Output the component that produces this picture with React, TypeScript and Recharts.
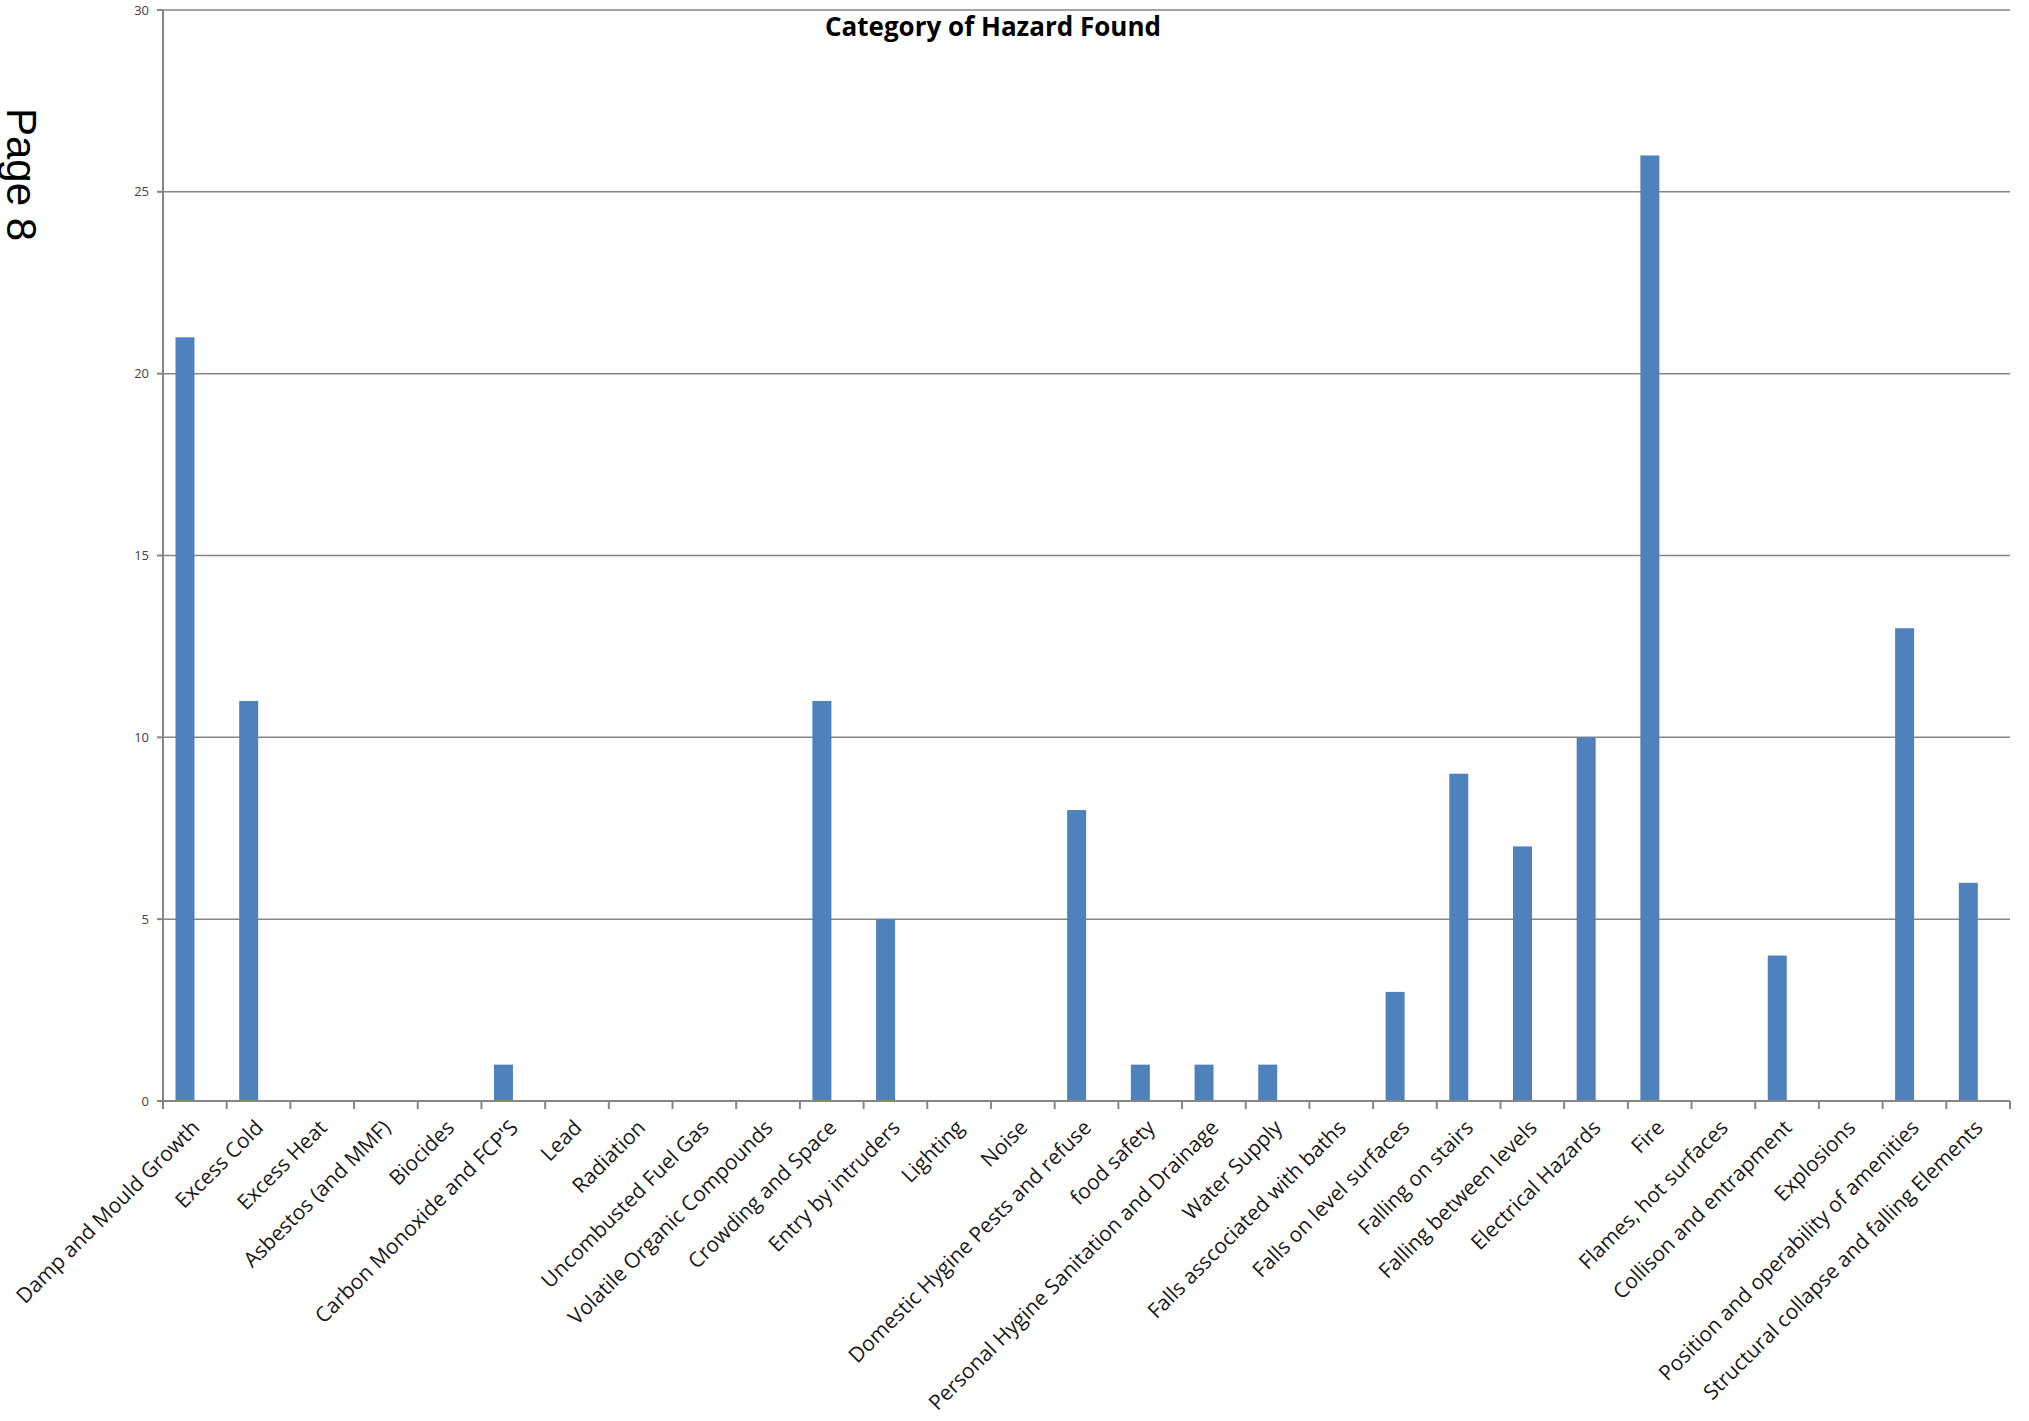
import { BarChart, Bar, XAxis, YAxis, CartesianGrid } from 'recharts';

const categories = [
  'Damp and Mould Growth',
  'Excess Cold',
  'Excess Heat',
  'Asbestos (and MMF)',
  'Biocides',
  "Carbon Monoxide and FCP'S",
  'Lead',
  'Radiation',
  'Uncombusted Fuel Gas',
  'Volatile Organic Compounds',
  'Crowding and Space',
  'Entry by intruders',
  'Lighting',
  'Noise',
  'Domestic Hygine Pests and refuse',
  'food safety',
  'Personal Hygine Sanitation and Drainage',
  'Water Supply',
  'Falls asscociated with baths',
  'Falls on level surfaces',
  'Falling on stairs',
  'Falling between levels',
  'Electrical Hazards',
  'Fire',
  'Flames, hot surfaces',
  'Collison and entrapment',
  'Explosions',
  'Position and operability of amenities',
  'Structural collapse and falling Elements',
];

const hazardCounts = [21, 11, 0, 0, 0, 1, 0, 0, 0, 0, 11, 5, 0, 0, 8, 1, 1, 1, 0, 3, 9, 7, 10, 26, 0, 4, 0, 13, 6];

const yTicks = [0, 5, 10, 15, 20, 25, 30];

const WIDTH = 2029;
const HEIGHT = 1421;
const X_AXIS_HEIGHT = 30;
const MARGIN = { top: 10, right: 19, bottom: 320 - X_AXIS_HEIGHT, left: 123 };
const Y_AXIS_WIDTH = 40;
const AXIS_GRAY = '#868686';

const plotLeft = MARGIN.left + Y_AXIS_WIDTH;
const plotRight = WIDTH - MARGIN.right;
const band = (plotRight - plotLeft) / categories.length;

const data = categories.map((name, i) => ({ name, value: hazardCounts[i] }));

// excel style: tick marks sit between categories, labels at 45deg
function CategoryTick(props: any) {
  const { x, y, payload, index } = props;
  const half = band / 2;
  const isLast = index === categories.length - 1;
  const ax = x + 6;
  const ay = y + 28;
  return (
    <g>
      <line x1={x - half} y1={y} x2={x - half} y2={y + 8} stroke={AXIS_GRAY} strokeWidth={2} />
      {isLast && <line x1={x + half} y1={y} x2={x + half} y2={y + 8} stroke={AXIS_GRAY} strokeWidth={2} />}
      <text
        x={ax}
        y={ay}
        transform={`rotate(-45, ${ax}, ${ay})`}
        textAnchor="end"
        fontSize={21}
        fontFamily="'Open Sans', sans-serif"
        fill="#1a1a1a"
      >
        {payload.value}
      </text>
    </g>
  );
}

// the original sheet had an empty second series, so each bar sits left of the category centre
function LeftBar(props: any) {
  const { x, y, width, height, fill } = props;
  if (!height) return null;
  return <rect x={x - width / 2} y={y} width={width} height={height} fill={fill} />;
}

export default function App() {
  return (
    <div style={{ position: 'absolute', left: 0, top: 0, width: WIDTH, height: HEIGHT, background: '#fff' }}>
      <div
        style={{
          position: 'absolute',
          left: 42,
          top: 108,
          transform: 'rotate(90deg)',
          transformOrigin: 'top left',
          fontFamily: "'Liberation Sans', Arial, sans-serif",
          fontSize: 42,
          lineHeight: 1,
          whiteSpace: 'nowrap',
          color: '#000',
        }}
      >
        Page 8
      </div>
      <div
        style={{
          position: 'absolute',
          left: 0,
          width: 1986,
          top: 8,
          textAlign: 'center',
          fontFamily: "'Open Sans', sans-serif",
          fontWeight: 700,
          fontSize: 26,
          color: '#000',
          zIndex: 2,
        }}
      >
        Category of Hazard Found
      </div>
      <BarChart width={WIDTH} height={HEIGHT} data={data} margin={MARGIN}>
        <CartesianGrid vertical={false} stroke={AXIS_GRAY} strokeWidth={1.5} />
        <XAxis
          dataKey="name"
          height={X_AXIS_HEIGHT}
          interval={0}
          tickLine={false}
          tickSize={0}
          tickMargin={0}
          stroke={AXIS_GRAY}
          strokeWidth={2}
          tick={<CategoryTick />}
        />
        <YAxis
          width={Y_AXIS_WIDTH}
          domain={[0, 30]}
          ticks={yTicks}
          interval={0}
          tickSize={6}
          tickMargin={8}
          stroke={AXIS_GRAY}
          strokeWidth={2}
          tick={{ fontSize: 13, fill: '#404040', fontFamily: "'Open Sans', sans-serif" }}
        />
        <Bar dataKey="value" fill="#4F81BD" barSize={19} shape={<LeftBar />} isAnimationActive={false} />
      </BarChart>
    </div>
  );
}
